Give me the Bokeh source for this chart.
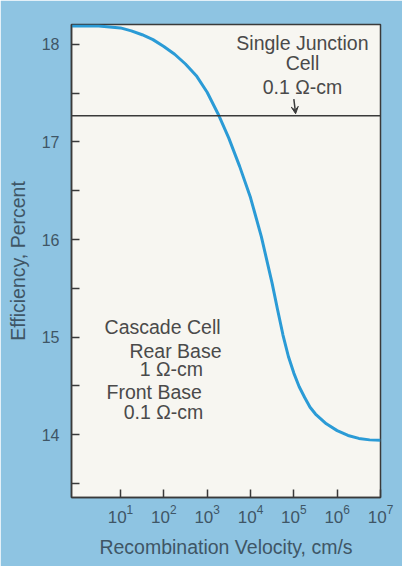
from bokeh.plotting import figure
from bokeh.models import FixedTicker, Span, Arrow, VeeHead, Label
from bokeh.embed import file_html
from bokeh.resources import INLINE

# Recombination velocity (cm/s) and efficiency (percent)
velocity = [0.74, 3.16, 10, 17.8, 31.6, 56.2, 100, 178, 316, 562, 1000, 1780,
            3160, 5620, 10000, 17800, 31600, 42200, 56200, 75000, 100000,
            133000, 178000, 237000, 316000, 562000, 1000000, 1780000,
            3160000, 5620000, 10000000]
efficiency = [18.19, 18.19, 18.17, 18.14, 18.10, 18.05, 17.98, 17.90, 17.80,
              17.68, 17.51, 17.29, 17.04, 16.75, 16.43, 16.03, 15.55, 15.28,
              15.02, 14.80, 14.63, 14.49, 14.38, 14.28, 14.21, 14.11, 14.04,
              13.99, 13.96, 13.945, 13.94]
single_junction_eff = 17.27

x_ticks = [10, 100, 1000, 10000, 100000, 1000000, 10000000]
y_ticks = [14, 15, 16, 17, 18]
y_minor_ticks = [13.5, 14.5, 15.5, 16.5, 17.5]

BLUE_BG = "#8ec4e2"
PAPER = "#f7f6f1"
CURVE = "#2b9bd6"
DARK = "#3a3a3a"
TEXT_IN = "#4a4a4a"
TEXT_OUT = "#3f5666"
FONT = "Liberation Sans"

p = figure(width=402, height=566, x_axis_type="log",
           x_range=(0.741, 1e7), y_range=(13.354, 18.205),
           output_backend="svg", toolbar_location=None,
           min_border_left=71, min_border_right=22,
           min_border_top=24, min_border_bottom=69)

p.background_fill_color = PAPER
p.border_fill_color = BLUE_BG
p.outline_line_color = DARK
p.outline_line_width = 1.5
p.xgrid.visible = False
p.ygrid.visible = False

p.xaxis.ticker = FixedTicker(ticks=x_ticks, minor_ticks=[])
p.yaxis.ticker = FixedTicker(ticks=y_ticks, minor_ticks=y_minor_ticks)

for ax in (p.xaxis[0], p.yaxis[0]):
    ax.axis_line_color = DARK
    ax.axis_line_width = 1.5
    ax.major_tick_in = 8
    ax.major_tick_out = 0
    ax.minor_tick_in = 8
    ax.minor_tick_out = 0
    ax.major_tick_line_color = DARK
    ax.major_tick_line_width = 1.5
    ax.minor_tick_line_color = DARK
    ax.minor_tick_line_width = 1.5
    ax.major_label_text_font = FONT
    ax.major_label_text_color = TEXT_OUT
    ax.axis_label_text_font = FONT
    ax.axis_label_text_font_style = "normal"
    ax.axis_label_text_color = TEXT_OUT
    ax.axis_label_text_font_size = "19.5px"

p.xaxis.major_label_text_font_size = "17px"
p.yaxis.major_label_text_font_size = "16px"
p.xaxis.major_label_standoff = 7
p.yaxis.major_label_standoff = 12
p.xaxis.axis_label = "Recombination Velocity, cm/s"
p.yaxis.axis_label = "Efficiency, Percent"
p.xaxis.axis_label_standoff = 10
p.yaxis.axis_label_standoff = 10

p.add_layout(Span(location=single_junction_eff, dimension="width",
                  line_color=DARK, line_width=1.5))

p.line(velocity, efficiency, line_color=CURVE, line_width=3,
       line_join="round")

p.add_layout(Arrow(end=VeeHead(size=7, fill_color=DARK, line_color=DARK),
                   x_start=1.0e5, y_start=17.44, x_end=1.1e5, y_end=17.29,
                   line_color=DARK, line_width=1.5))

annot = [
    ("Single Junction", 1.58e5, 18.02, "center"),
    ("Cell", 1.58e5, 17.81, "center"),
    ("0.1 Ω-cm", 1.58e5, 17.56, "center"),
    ("Cascade Cell", 4.3, 15.10, "left"),
    ("Rear Base", 186, 14.86, "center"),
    ("1 Ω-cm", 150, 14.67, "center"),
    ("Front Base", 60, 14.44, "center"),
    ("0.1 Ω-cm", 98, 14.23, "center"),
]
for txt, x, y, align in annot:
    p.add_layout(Label(x=x, y=y, text=txt, text_align=align,
                       text_baseline="middle", text_font=FONT,
                       text_font_size="19.5px", text_color=TEXT_IN))

open("out.html", "w").write(file_html(p, INLINE))
